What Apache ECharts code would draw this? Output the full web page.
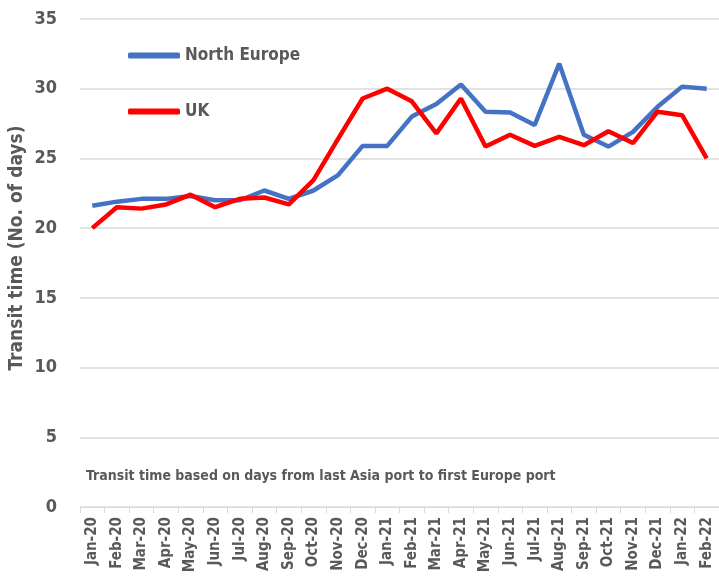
<!DOCTYPE html>
<html>
<head>
<meta charset="utf-8">
<script src="https://cdn.jsdelivr.net/npm/echarts@6/dist/echarts.min.js"></script>
<style>
  html, body { margin: 0; padding: 0; background: #fff; }
  #chart { width: 719px; height: 579px; }
</style>
</head>
<body>
<div id="chart"></div>
<script>
var months = ['Jan-20', 'Feb-20', 'Mar-20', 'Apr-20', 'May-20', 'Jun-20', 'Jul-20', 'Aug-20', 'Sep-20',
  'Oct-20', 'Nov-20', 'Dec-20', 'Jan-21', 'Feb-21', 'Mar-21', 'Apr-21', 'May-21', 'Jun-21', 'Jul-21',
  'Aug-21', 'Sep-21', 'Oct-21', 'Nov-21', 'Dec-21', 'Jan-22', 'Feb-22'];

var northEurope = [21.6, 21.9, 22.1, 22.1, 22.3, 22.0, 22.0, 22.7, 22.1, 22.7, 23.8, 25.9, 25.9,
  28.0, 28.9, 30.3, 28.35, 28.3, 27.4, 31.8, 26.7, 25.85, 26.9, 28.7, 30.15, 30.0];

var uk = [20.0, 21.5, 21.4, 21.7, 22.4, 21.5, 22.1, 22.2, 21.7, 23.45, 26.4, 29.3, 30.0,
  29.1, 26.8, 29.3, 25.85, 26.7, 25.9, 26.55, 25.95, 26.95, 26.1, 28.35, 28.1, 25.0];

var yTitle = 'Transit time (No. of days)';
var note = 'Transit time based on days from last Asia port to first Europe port';

var font = '"DejaVu Sans Condensed", sans-serif';
var textColor = '#595959';

var myChart = echarts.init(document.getElementById('chart'));
myChart.setOption({
  animation: false,
  textStyle: { fontFamily: font },
  grid: { left: 80, right: 0, top: 19, bottom: 72, containLabel: false, outerBoundsMode: 'none' },
  legend: {
    orient: 'vertical',
    left: 123,
    top: 42,
    itemGap: 39,
    itemWidth: 52,
    itemHeight: 6,
    icon: 'roundRect',
    textStyle: { fontFamily: font, fontSize: 17, fontWeight: 'bold', color: textColor },
    data: ['North Europe', 'UK']
  },
  xAxis: {
    type: 'category',
    data: months,
    boundaryGap: true,
    axisLine: { lineStyle: { color: '#d9d9d9', width: 1 } },
    axisTick: { show: true, length: 6, lineStyle: { color: '#d9d9d9' } },
    axisLabel: {
      interval: 0,
      rotate: 90,
      margin: 10,
      fontFamily: font,
      fontSize: 15,
      fontWeight: 'bold',
      color: textColor
    }
  },
  yAxis: {
    type: 'value',
    min: 0,
    max: 35,
    interval: 5,
    axisLine: { show: false },
    axisTick: { show: false },
    axisLabel: { margin: 23, fontFamily: font, fontSize: 18, fontWeight: 'bold', color: textColor },
    splitLine: { lineStyle: { color: '#d9d9d9', width: 1.5 } }
  },
  graphic: [
    {
      type: 'text',
      x: 17,
      y: 248,
      rotation: Math.PI / 2,
      style: {
        text: yTitle, fontFamily: font, fontSize: 19, fontWeight: 'bold', fill: textColor,
        align: 'center', verticalAlign: 'middle'
      }
    },
    {
      type: 'text',
      left: 86,
      top: 469,
      style: { text: note, fontFamily: font, fontSize: 14, fontWeight: 'bold', fill: textColor }
    }
  ],
  series: [
    {
      name: 'North Europe',
      type: 'line',
      data: northEurope,
      symbol: 'none',
      itemStyle: { color: '#4472C4' },
      lineStyle: { color: '#4472C4', width: 4.5 }
    },
    {
      name: 'UK',
      type: 'line',
      data: uk,
      symbol: 'none',
      itemStyle: { color: '#FF0000' },
      lineStyle: { color: '#FF0000', width: 4.5 }
    }
  ]
});
</script>
</body>
</html>
